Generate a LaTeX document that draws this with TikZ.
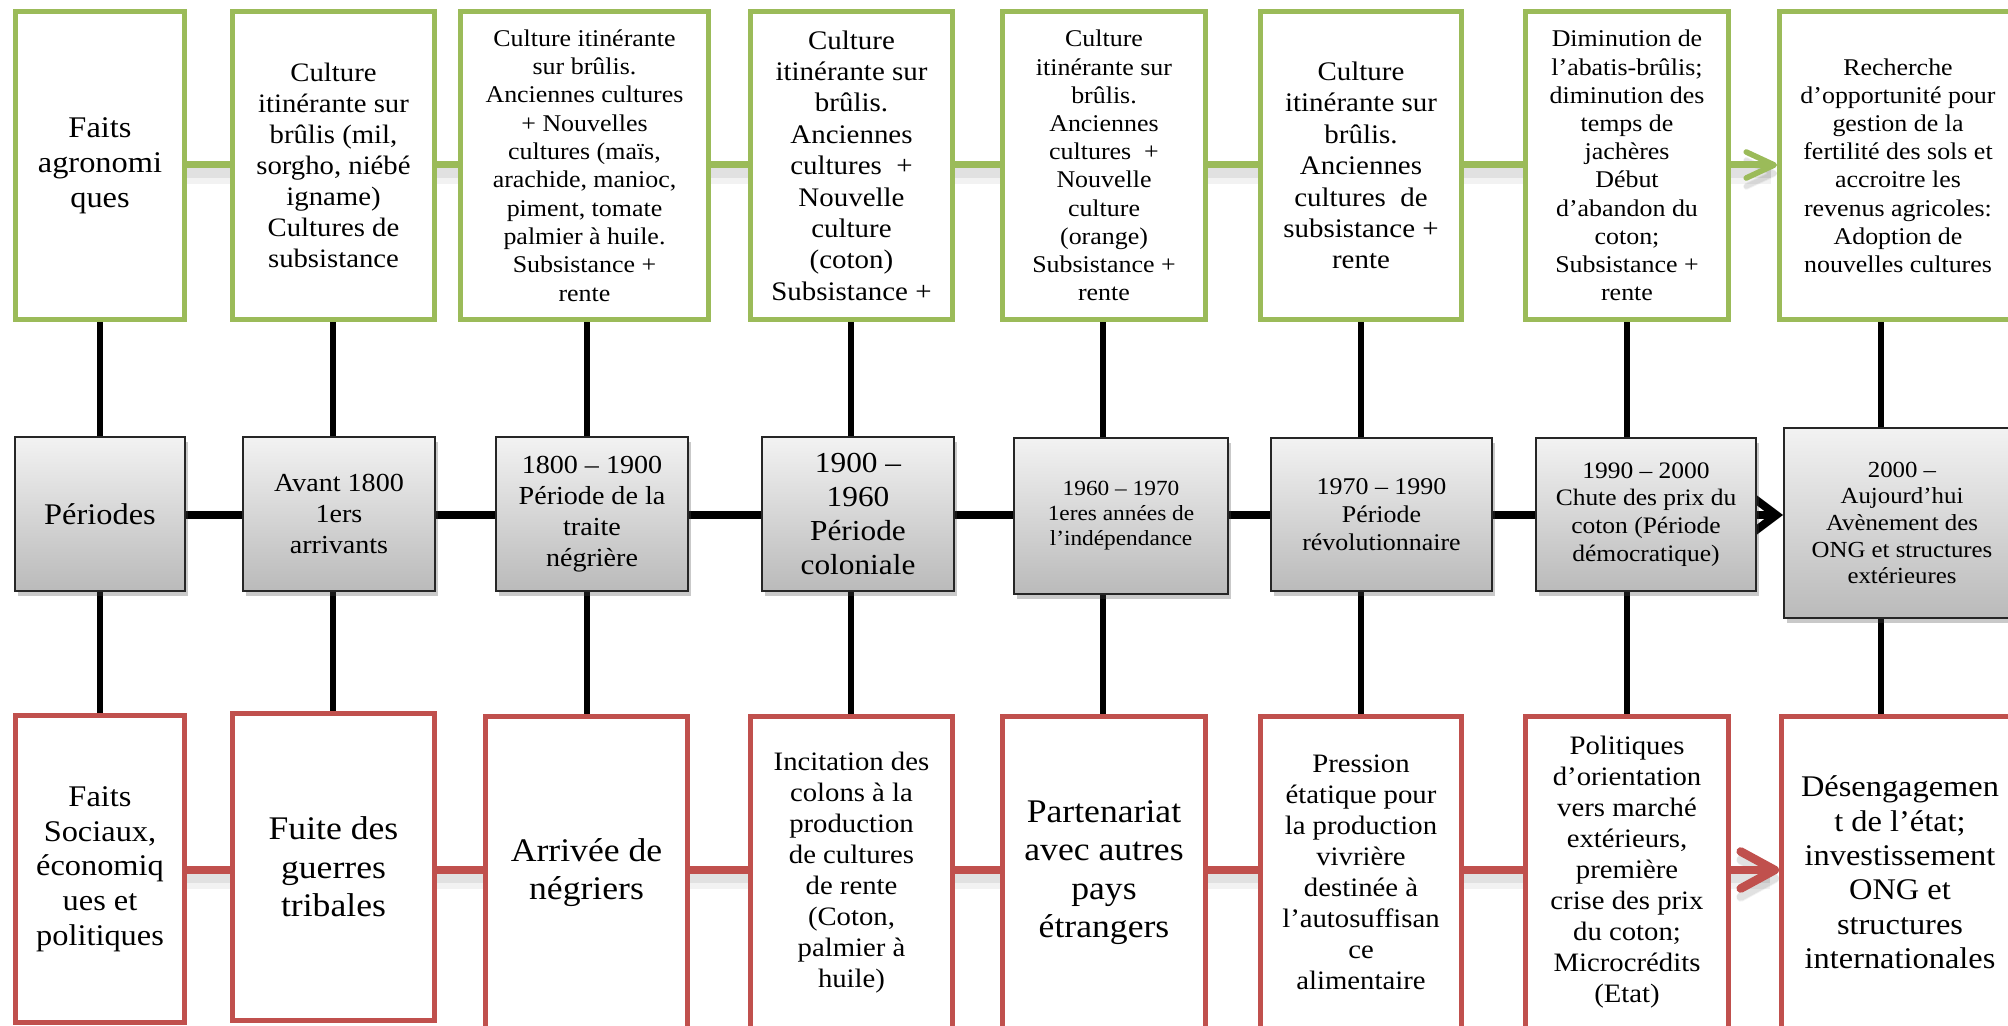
\documentclass[tikz,border=0pt]{standalone}
\usepackage{fontspec}
\setmainfont[FakeStretch=1.08]{Liberation Serif}
\usetikzlibrary{arrows.meta,shadows,backgrounds}

\definecolor{agreen}{HTML}{9BBB59}
\definecolor{ared}{HTML}{C0504D}
\newcommand\setfs[2]{\fontsize{#1}{#2}\selectfont}

\tikzset{
  cell/.style={rectangle, inner sep=0pt, align=center, text=black},
  gbox/.style={cell, draw=agreen, line width=2.5pt, fill=white, minimum height=154pt},
  rbox/.style={cell, draw=ared, line width=2.5pt, fill=white},
  pbox/.style={cell, draw=black!85, line width=1pt, top color=black!5, bottom color=black!27,
    minimum height=77pt,
    drop shadow={shadow xshift=1.5pt, shadow yshift=-2.5pt, opacity=0.3, fill=black!70}},
  lshadow/.style={
    preaction={draw=black, opacity=0.05, line width=10pt, transform canvas={yshift=-4.5pt}},
    preaction={draw=black, opacity=0.07, line width=5pt, transform canvas={yshift=-4pt}}},
  gline/.style={draw=agreen, line width=3.5pt, lshadow},
  pline/.style={draw=black, line width=4pt},
  rline/.style={draw=ared, line width=4pt, lshadow},
  vline/.style={draw=black, line width=2.8pt},
}

\begin{document}
\begin{tikzpicture}[x=0.5pt, y=-0.5pt]
\useasboundingbox (0,0) rectangle (2008,1026);
\clip (0,0) rectangle (2008,1026);

% row and column reference coordinates
\coordinate (gy) at (0,165);
\coordinate (py) at (0,515);
\coordinate (ry) at (0,870);
\coordinate (k1) at (100,0);
\coordinate (k2) at (333,0);
\coordinate (k3) at (587,0);
\coordinate (k4) at (851,0);
\coordinate (k5) at (1103,0);
\coordinate (k6) at (1361,0);
\coordinate (k7) at (1627,0);
\coordinate (k8) at (1881,0);

% agronomic facts
\node[gbox, minimum width=84.5pt, font=\setfs{15}{17.5}] (t1) at (100,165.5)
  {Faits\\agronomi\\ques};
\node[gbox, minimum width=101pt, font=\setfs{13.3}{15.5}] (t2) at (333.5,165.5)
  {Culture\\itinérante sur\\brûlis (mil,\\sorgho, niébé\\igname)\\Cultures de\\subsistance};
\node[gbox, minimum width=124pt, font=\setfs{12}{14.15}] (t3) at (584.5,165.5)
  {Culture itinérante\\sur brûlis.\\Anciennes cultures\\+ Nouvelles\\cultures (maïs,\\arachide, manioc,\\piment, tomate\\palmier à huile.\\Subsistance +\\rente};
\node[gbox, minimum width=101pt, font=\setfs{13.4}{15.7}] (t4) at (851.5,165.5)
  {Culture\\itinérante sur\\brûlis.\\Anciennes\\cultures~~+\\Nouvelle\\culture\\(coton)\\Subsistance +};
\node[gbox, minimum width=101.5pt, font=\setfs{12}{14.1}] (t5) at (1104,165.5)
  {Culture\\itinérante sur\\brûlis.\\Anciennes\\cultures~~+\\Nouvelle\\culture\\(orange)\\Subsistance +\\rente};
\node[gbox, minimum width=100.5pt, font=\setfs{13.4}{15.7}] (t6) at (1361,165.5)
  {Culture\\itinérante sur\\brûlis.\\Anciennes\\cultures~~de\\subsistance +\\rente};
\node[gbox, minimum width=101.5pt, font=\setfs{12}{14.1}] (t7) at (1627,165.5)
  {Diminution de\\l’abatis-brûlis;\\diminution des\\temps de\\jachères\\Début\\d’abandon du\\coton;\\Subsistance +\\rente};
\node[gbox, minimum width=118.5pt, font=\setfs{12}{14.1}] (t8) at (1898,165.5)
  {Recherche\\d’opportunité pour\\gestion de la\\fertilité des sols et\\accroitre les\\revenus agricoles:\\Adoption de\\nouvelles cultures};

% periods
\node[pbox, minimum width=85pt, font=\setfs{15}{17.5}] (p1) at (100,514) {Périodes};
\node[pbox, minimum width=96pt, font=\setfs{13}{15.35}] (p2) at (339,514)
  {Avant 1800\\1ers\\arrivants};
\node[pbox, minimum width=96pt, font=\setfs{13}{15.5}] (p3) at (592,514)
  {1800 – 1900\\Période de la\\traite\\négrière};
\node[pbox, minimum width=96pt, font=\setfs{14.5}{17}] (p4) at (858,514)
  {1900 –\\1960\\Période\\coloniale};
\node[pbox, minimum width=107pt, minimum height=78pt, font=\setfs{10.8}{12.5}] (p5) at (1121,516)
  {1960 – 1970\\1eres années de\\l’indépendance};
\node[pbox, minimum width=110.5pt, minimum height=76.5pt, font=\setfs{12}{14.15}] (p6) at (1381.5,514.5)
  {1970 – 1990\\Période\\révolutionnaire};
\node[pbox, minimum width=110pt, minimum height=76.5pt, font=\setfs{11.8}{13.85}] (p7) at (1646,514.5)
  {1990 – 2000\\Chute des prix du\\coton (Période\\démocratique)};
\node[pbox, minimum width=118pt, minimum height=95pt, font=\setfs{11.5}{13.35}] (p8) at (1902,523)
  {2000 –\\Aujourd’hui\\Avènement des\\ONG et structures\\extérieures};

% social, economic and political facts
\node[rbox, minimum width=84.5pt, minimum height=153.5pt, font=\setfs{15}{17.35}] (r1) at (100,869)
  {Faits\\Sociaux,\\économiq\\ues et\\politiques};
\node[rbox, minimum width=101pt, minimum height=153.5pt, font=\setfs{16.5}{19.2}] (r2) at (333.5,867)
  {Fuite des\\guerres\\tribales};
\node[rbox, minimum width=101pt, minimum height=156pt, font=\setfs{16.5}{19.2}] (r3) at (586.5,872.5)
  {Arrivée de\\négriers};
\node[rbox, minimum width=101pt, minimum height=156pt, font=\setfs{13.3}{15.5}] (r4) at (851.5,872.5)
  {Incitation des\\colons à la\\production\\de cultures\\de rente\\(Coton,\\palmier à\\huile)};
\node[rbox, minimum width=101.5pt, minimum height=156pt, font=\setfs{16.5}{19.2}] (r5) at (1104,872.5)
  {Partenariat\\avec autres\\pays\\étrangers};
\node[rbox, minimum width=100.5pt, minimum height=156pt, font=\setfs{13.3}{15.5}] (r6) at (1361,872.5)
  {Pression\\étatique pour\\la production\\vivrière\\destinée à\\l’autosuffisan\\ce\\alimentaire};
\node[rbox, minimum width=101.5pt, minimum height=156pt, font=\setfs{13.3}{15.5}] (r7) at (1627,872.5)
  {Politiques\\d’orientation\\vers marché\\extérieurs,\\première\\crise des prix\\du coton;\\Microcrédits\\(Etat)};
\node[rbox, minimum width=118.5pt, minimum height=156pt, font=\setfs{15}{17.2}] (r8) at (1900,872.5)
  {Désengagemen\\t de l’état;\\investissement\\ONG et\\structures\\internationales};

\begin{scope}[on background layer]
  % horizontal timelines
  \foreach \a/\b in {t1/t2,t2/t3,t3/t4,t4/t5,t5/t6,t6/t7}
    \draw[gline] (\a.east |- gy) -- (\b.west |- gy);
  \draw[gline, -{Straight Barb[length=14pt, width=13pt, line width=2.8pt, round]}]
    (t7.east |- gy) -- (t8.west |- gy);

  \foreach \a/\b in {p1/p2,p2/p3,p3/p4,p4/p5,p5/p6,p6/p7}
    \draw[pline] (\a.east |- py) -- (\b.west |- py);
  \draw[pline, -{Straight Barb[length=12pt, width=18pt, line width=4pt]}]
    (p7.east |- py) -- (p8.west |- py);

  \foreach \a/\b in {r1/r2,r2/r3,r3/r4,r4/r5,r5/r6,r6/r7}
    \draw[rline] (\a.east |- ry) -- (\b.west |- ry);
  \draw[rline, -{Straight Barb[length=17pt, width=18.5pt, line width=4.3pt, round]}]
    (r7.east |- ry) -- (r8.west |- ry);

  % vertical links between the three rows
  \foreach \i in {1,...,8} {
    \draw[vline] (t\i.south -| k\i) -- (p\i.north -| k\i);
    \draw[vline] (p\i.south -| k\i) -- (r\i.north -| k\i);
  }
\end{scope}
\end{tikzpicture}
\end{document}
